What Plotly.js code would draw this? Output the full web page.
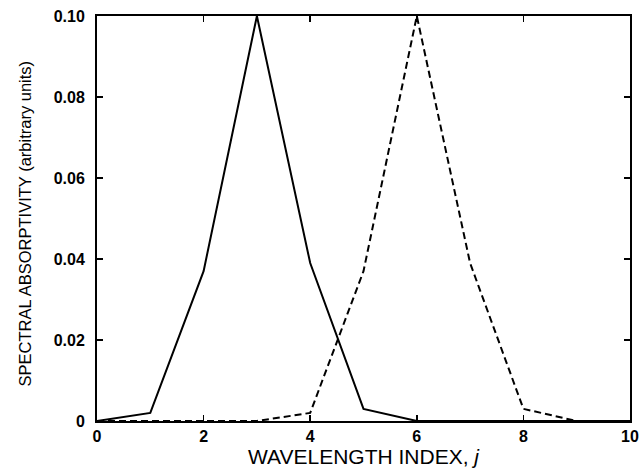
<!DOCTYPE html>
<html><head><meta charset="utf-8">
<script src="https://cdn.plot.ly/plotly-3.0.1.min.js"></script>
<style>body{margin:0;background:#fff}#c{width:641px;height:474px}</style>
</head><body><div id="c"></div>
<script>
const j = [0,1,2,3,4,5,6,7,8,9,10];
const solid = [0,0.002,0.037,0.100,0.039,0.003,0,0,0,0,0];
const dashed = [0,0,0,0,0.002,0.037,0.100,0.039,0.003,0,0];
const xTicks = [0,2,4,6,8,10];
const yTicks = [0,0.02,0.04,0.06,0.08,0.10];
const yTickText = ['0','0.02','0.04','0.06','0.08','0.10'];
const xTitle = 'WAVELENGTH INDEX, <i>j</i>';
const yTitle = 'SPECTRAL ABSORPTIVITY (arbitrary units)';

const font = {family:'Liberation Sans, Arial, sans-serif', color:'#000'};
Plotly.newPlot('c', [
  {x:j, y:solid, mode:'lines', line:{color:'#000', width:2}, hoverinfo:'skip'},
  {x:j, y:dashed, mode:'lines', line:{color:'#000', width:2, dash:'7px,4px'}, hoverinfo:'skip'}
], {
  width:641, height:474,
  margin:{l:97, r:11, t:16, b:53},
  showlegend:false,
  paper_bgcolor:'#fff', plot_bgcolor:'#fff',
  font:font,
  xaxis:{range:[0,10], tickvals:xTicks, ticks:'inside', ticklen:6, tickwidth:1.5, tickcolor:'#000',
    showline:true, linewidth:2, linecolor:'#000', mirror:'ticks', showgrid:false, zeroline:false,
    tickfont:{size:16, weight:'bold'}, ticklabelstandoff:0,
    title:{text:xTitle, font:{size:21}, standoff:1}},
  yaxis:{range:[0,0.1], tickvals:yTicks, ticktext:yTickText, ticks:'inside', ticklen:6, tickwidth:1.5, tickcolor:'#000',
    showline:true, linewidth:2, linecolor:'#000', mirror:'ticks', showgrid:false, zeroline:false,
    tickfont:{size:16, weight:'bold'}, ticklabelstandoff:7},
  annotations:[{text:yTitle, xref:'paper', yref:'paper', x:-0.135, y:0.488, xanchor:'center', yanchor:'middle',
    textangle:-90, showarrow:false, font:{size:16.5}}]
}, {staticPlot:true});
</script></body></html>
